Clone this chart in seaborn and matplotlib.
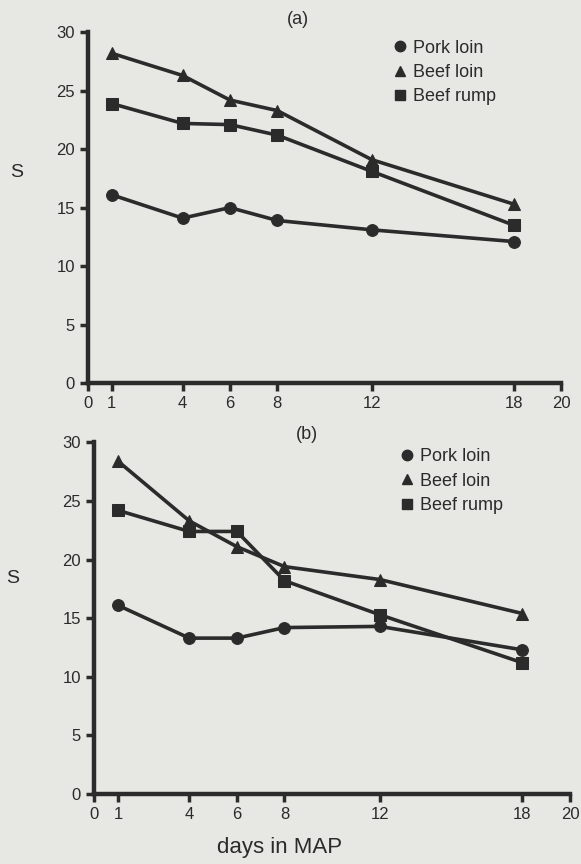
import pandas as pd
import seaborn as sns
import matplotlib.pyplot as plt
from matplotlib.lines import Line2D

days = [1, 4, 6, 8, 12, 18]
products = ['Pork loin', 'Beef loin', 'Beef rump']

# panel (a)
a_pork = [16.1, 14.1, 15.0, 13.9, 13.1, 12.1]
a_beef_loin = [28.2, 26.3, 24.2, 23.3, 19.1, 15.3]
a_beef_rump = [23.9, 22.2, 22.1, 21.2, 18.1, 13.5]

# panel (b)
b_pork = [16.1, 13.3, 13.3, 14.2, 14.3, 12.3]
b_beef_loin = [28.4, 23.3, 21.1, 19.4, 18.3, 15.4]
b_beef_rump = [24.2, 22.4, 22.4, 18.2, 15.3, 11.2]

markers = {'Pork loin': 'o', 'Beef loin': '^', 'Beef rump': 's'}
ink = '#2b2b2b'
paper = '#e7e7e4'


def make_frame(pork, loin, rump):
    rows = []
    for name, vals in zip(products, [pork, loin, rump]):
        for d, v in zip(days, vals):
            rows.append({'day': d, 'S': v, 'product': name})
    return pd.DataFrame(rows)


sns.set_style('ticks')
plt.rcParams['font.family'] = ['Liberation Sans', 'DejaVu Sans']

fig = plt.figure(figsize=(5.81, 8.64), dpi=100, facecolor=paper)
ax_a = fig.add_axes([0.1515, 0.5567, 0.814, 0.406])
ax_b = fig.add_axes([0.162, 0.081, 0.819, 0.407])

# axes, data, title (x, y), S label (x, y), legend anchor (x, y)
panels = [
    (ax_a, make_frame(a_pork, a_beef_loin, a_beef_rump), '(a)', (0.513, 0.977), (0.029, 0.800), (0.676, 0.954)),
    (ax_b, make_frame(b_pork, b_beef_loin, b_beef_rump), '(b)', (0.528, 0.497), (0.022, 0.331), (0.688, 0.481)),
]

for ax, df, label, tpos, spos, lpos in panels:
    ax.set_facecolor(paper)
    sns.lineplot(data=df, x='day', y='S', hue='product', style='product',
                 markers=markers, dashes=False, palette=[ink] * 3,
                 markersize=8.5, linewidth=2.6, markeredgecolor=ink,
                 legend=False, ax=ax)
    ax.set_xlim(0, 20)
    ax.set_ylim(0, 30)
    ax.set_xticks([0, 1, 4, 6, 8, 12, 18, 20])
    ax.set_yticks([0, 5, 10, 15, 20, 25, 30])
    ax.tick_params(axis='both', labelsize=12, width=2.5, length=6,
                   color=ink, labelcolor=ink)
    for side in ['left', 'bottom']:
        ax.spines[side].set_linewidth(3.2)
        ax.spines[side].set_color(ink)
    sns.despine(ax=ax)
    ax.set_xlabel('')
    ax.set_ylabel('')
    fig.text(tpos[0], tpos[1], label, ha='center', va='center', fontsize=13, color=ink)
    fig.text(spos[0], spos[1], 'S', ha='center', va='center', fontsize=14, color=ink)
    handles = [Line2D([], [], marker=markers[p], linestyle='none', color=ink,
                      markersize=7.5) for p in products]
    ax.legend(handles, products, loc='upper left', bbox_to_anchor=lpos,
              bbox_transform=fig.transFigure, frameon=False, fontsize=13,
              handlelength=0.8, handletextpad=0.3, labelspacing=0.4,
              borderpad=0, borderaxespad=0, labelcolor=ink)

fig.text(0.482, 0.013, 'days in MAP', ha='center', fontsize=16, color=ink)

fig.savefig('out.png', dpi=100, facecolor=paper)
